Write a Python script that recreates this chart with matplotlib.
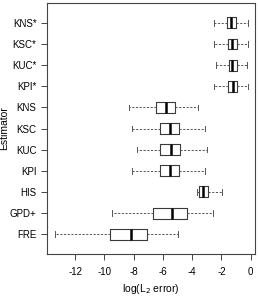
import matplotlib
matplotlib.use("Agg")
import matplotlib.pyplot as plt

plt.rcParams['font.family'] = ['Liberation Sans', 'DejaVu Sans']

categories = ["FRE", "GPD+", "HIS", "KPI", "KUC", "KSC", "KNS", "KPI*", "KUC*", "KSC*", "KNS*"]
whislo = [-13.4, -9.45, -3.69, -8.12, -7.78, -8.12, -8.35, -2.5, -2.39, -2.5, -2.5]
q1     = [-9.6, -6.65, -3.51, -6.19, -6.19, -6.19, -6.48, -1.55, -1.5, -1.57, -1.64]
med    = [-8.19, -5.35, -3.28, -5.51, -5.44, -5.51, -5.8, -1.22, -1.26, -1.26, -1.34]
q3     = [-7.06, -4.33, -2.92, -4.87, -4.8, -4.87, -5.15, -0.94, -0.94, -0.96, -1.02]
whishi = [-4.94, -2.59, -1.96, -3.1, -2.98, -3.1, -3.58, -0.16, -0.27, -0.2, -0.16]
xticks = [-12, -10, -8, -6, -4, -2, 0]

stats = []
for i, name in enumerate(categories):
    stats.append(dict(label=name, whislo=whislo[i], q1=q1[i], med=med[i],
                      q3=q3[i], whishi=whishi[i], fliers=[]))

fig = plt.figure(figsize=(2.58, 3.01), dpi=100)
ax = fig.add_axes([0.182, 0.156, 0.806, 0.834])

edge = '#3a3a3a'
positions = list(range(1, len(categories) + 1))
ax.bxp(stats, positions=positions, vert=False, widths=0.52, showfliers=False,
       boxprops=dict(color=edge, linewidth=0.8),
       medianprops=dict(color='black', linewidth=1.8, solid_capstyle='butt'),
       whiskerprops=dict(color='#555555', linewidth=0.7, linestyle=(0, (2.2, 1.6))),
       capprops=dict(color='#555555', linewidth=0.7),
       capwidths=0.26)

ax.set_xlim(-13.93, 0.29)
ax.set_ylim(0.06, 11.94)
ax.set_xticks(xticks)
ax.set_xticklabels([str(t) for t in xticks])
ax.set_yticks(positions)
ax.set_yticklabels(categories)
for s in ax.spines.values():
    s.set_color('#444444')
    s.set_linewidth(0.8)
ax.tick_params(axis='both', labelsize=7, length=4.5, width=0.7, color='#444444')
ax.tick_params(axis='y', pad=3)
ax.tick_params(axis='x', pad=5)
ax.set_xlabel(r'log(L$_2$ error)', fontsize=7.5)
ax.xaxis.set_label_coords(0.5, -0.112)
ax.set_ylabel('Estimator', fontsize=7.5)
ax.yaxis.set_label_coords(-0.182, 0.5)

fig.savefig('out.png', dpi=100)
